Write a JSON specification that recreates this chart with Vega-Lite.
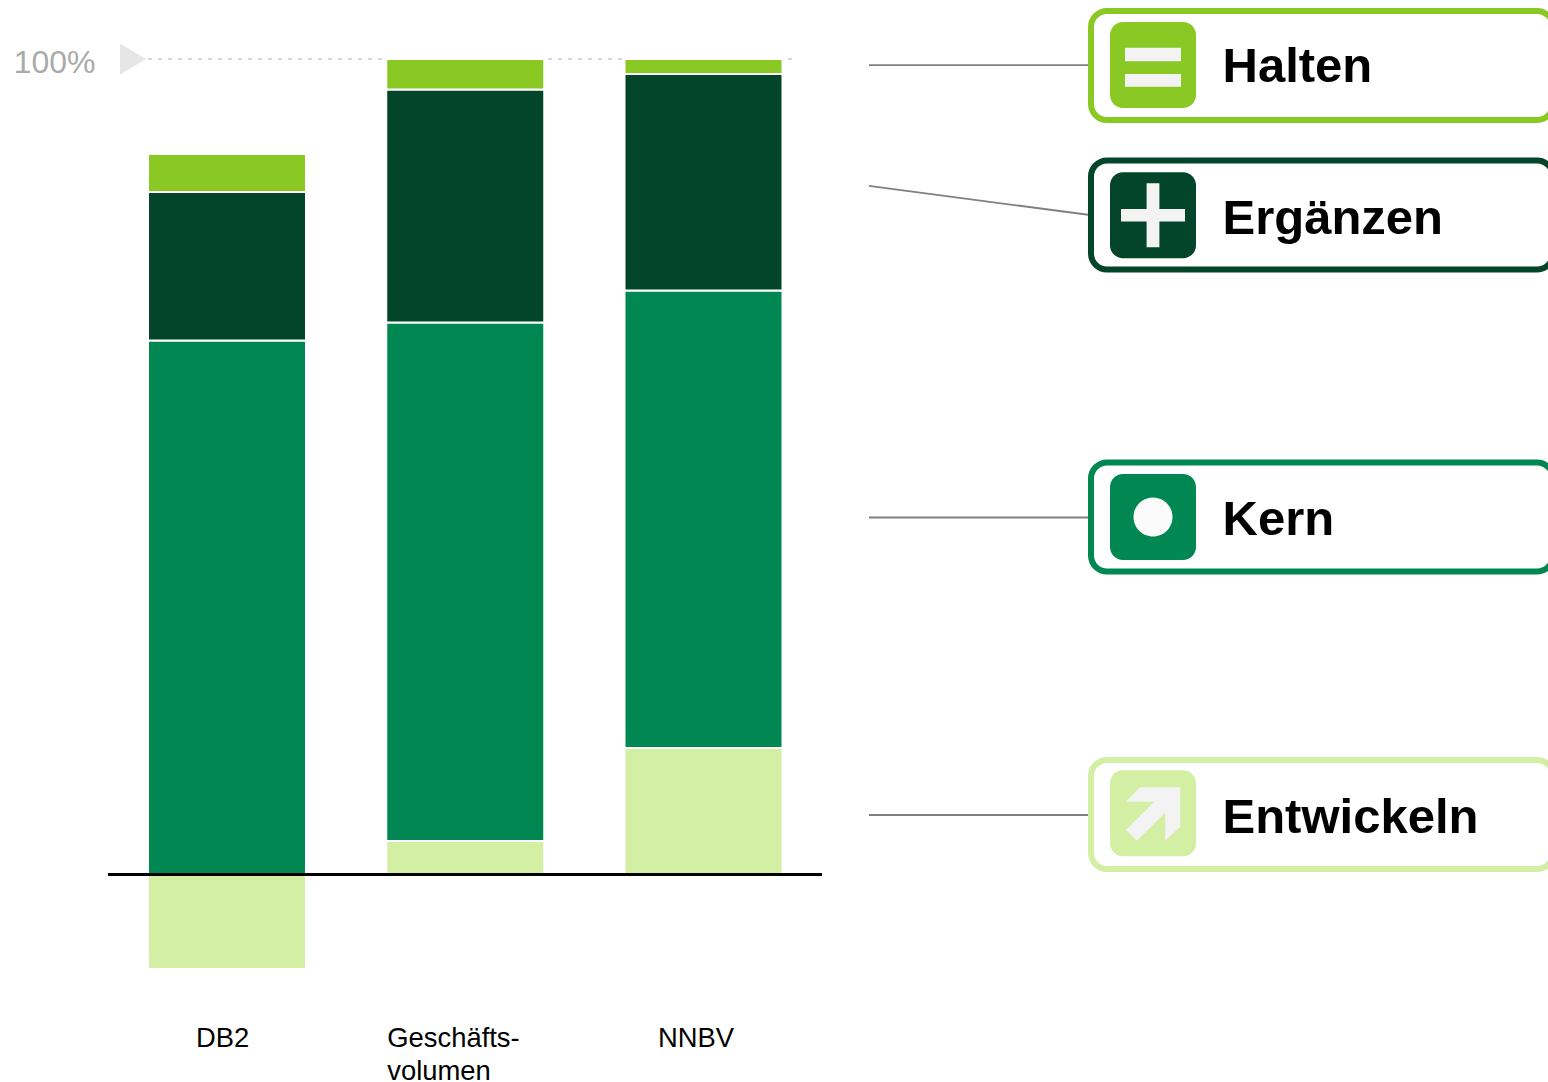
{
  "$schema": "https://vega.github.io/schema/vega-lite/v6.json",
  "width": 1548,
  "height": 1082,
  "autosize": "none",
  "padding": 0,
  "background": "white",
  "config": {"view": {"stroke": null}, "font": "Liberation Sans"},
  "datasets": {
    "bars": [
      {"measure": "DB2", "category": "Entwickeln", "stackOrder": 1, "share": -11.66},
      {"measure": "DB2", "category": "Kern", "stackOrder": 2, "share": 65.46},
      {"measure": "DB2", "category": "Ergänzen", "stackOrder": 3, "share": 18.22},
      {"measure": "DB2", "category": "Halten", "stackOrder": 4, "share": 4.66},
      {"measure": "Geschäftsvolumen", "category": "Entwickeln", "stackOrder": 1, "share": 4.05},
      {"measure": "Geschäftsvolumen", "category": "Kern", "stackOrder": 2, "share": 63.62},
      {"measure": "Geschäftsvolumen", "category": "Ergänzen", "stackOrder": 3, "share": 28.59},
      {"measure": "Geschäftsvolumen", "category": "Halten", "stackOrder": 4, "share": 3.74},
      {"measure": "NNBV", "category": "Entwickeln", "stackOrder": 1, "share": 15.46},
      {"measure": "NNBV", "category": "Kern", "stackOrder": 2, "share": 56.13},
      {"measure": "NNBV", "category": "Ergänzen", "stackOrder": 3, "share": 26.58},
      {"measure": "NNBV", "category": "Halten", "stackOrder": 4, "share": 1.83}
    ],
    "measureLabels": [
      {"measure": "DB2", "labelText": "DB2", "level": -18.53},
      {"measure": "Geschäftsvolumen", "labelText": "Geschäfts-\nvolumen", "level": -18.53},
      {"measure": "NNBV", "labelText": "NNBV", "level": -18.53}
    ],
    "legendItems": [
      {"category": "Halten", "boxLevel": 99.2, "iconLevel": 99.26, "labelLevel": 99.44, "lineFrom": 99.26, "lineTo": 99.26},
      {"category": "Ergänzen", "boxLevel": 80.86, "iconLevel": 80.83, "labelLevel": 80.83, "lineFrom": 84.42, "lineTo": 80.86},
      {"category": "Kern", "boxLevel": 43.8, "iconLevel": 43.8, "labelLevel": 43.92, "lineFrom": 43.74, "lineTo": 43.74},
      {"category": "Entwickeln", "boxLevel": 7.3, "iconLevel": 7.46, "labelLevel": 7.34, "lineFrom": 7.24, "lineTo": 7.24}
    ],
    "reference": [{"level": 100}],
    "baseline": [{"level": -0.05}]
  },
  "resolve": {"scale": {"x": "independent"}, "axis": {"x": "independent", "y": "independent"}},
  "layer": [
    {
      "data": {"name": "reference"},
      "mark": {"type": "rule", "stroke": "#c9c9c9", "strokeWidth": 1.5, "strokeDash": [4, 6]},
      "encoding": {
        "x": {"datum": 0, "type": "quantitative", "scale": {"domain": [0, 1], "range": [148, 792]}, "axis": null},
        "x2": {"datum": 1},
        "y": {"field": "level", "type": "quantitative", "scale": {"domain": [-25.521, 107.239], "nice": false, "zero": false}, "axis": null}
      }
    },
    {
      "data": {"name": "reference"},
      "mark": {"type": "point", "filled": true, "opacity": 1, "fill": "#e6e6e6", "size": 900, "shape": "M-0.867,-1.03L0.867,0L-0.867,1.03Z"},
      "encoding": {
        "x": {"datum": 0, "type": "quantitative", "scale": {"domain": [0, 1], "range": [133, 200]}, "axis": null},
        "y": {"field": "level", "type": "quantitative", "axis": null}
      }
    },
    {
      "data": {"name": "bars"},
      "mark": {"type": "bar", "stroke": "white", "strokeWidth": 2},
      "encoding": {
        "x": {
          "field": "measure",
          "type": "nominal",
          "sort": ["DB2", "Geschäftsvolumen", "NNBV"],
          "scale": {"type": "band", "range": [148, 782.5], "paddingInner": 0.3368, "paddingOuter": 0},
          "axis": null
        },
        "y": {
          "field": "share",
          "type": "quantitative",
          "stack": "zero",
          "axis": {
            "title": null,
            "orient": "left",
            "values": [100],
            "domain": false,
            "ticks": false,
            "grid": false,
            "offset": -100,
            "labelPadding": 5,
            "labelOffset": 4,
            "labelFont": "Liberation Sans",
            "labelFontSize": 32,
            "labelColor": "#aaaaaa",
            "labelExpr": "'100%'"
          }
        },
        "color": {
          "field": "category",
          "type": "nominal",
          "scale": {"domain": ["Halten", "Ergänzen", "Kern", "Entwickeln"], "range": ["#8ac924", "#03452a", "#018752", "#d2efa3"]},
          "legend": null
        },
        "order": {"field": "stackOrder", "type": "quantitative"}
      }
    },
    {
      "data": {"name": "baseline"},
      "mark": {"type": "rule", "stroke": "#000000", "strokeWidth": 3},
      "encoding": {
        "x": {"datum": 0, "type": "quantitative", "scale": {"domain": [0, 1], "range": [108, 822]}, "axis": null},
        "x2": {"datum": 1},
        "y": {"field": "level", "type": "quantitative", "axis": null}
      }
    },
    {
      "data": {"name": "measureLabels"},
      "transform": [{"filter": "datum.measure === 'DB2'"}],
      "mark": {"type": "text", "align": "left", "baseline": "top", "dx": -31, "lineBreak": "\n", "lineHeight": 33, "font": "Liberation Sans", "fontSize": 27.4, "fill": "#000000"},
      "encoding": {
        "x": {"field": "measure", "type": "nominal", "sort": ["DB2", "Geschäftsvolumen", "NNBV"], "scale": {"type": "band", "domain": ["DB2", "Geschäftsvolumen", "NNBV"], "range": [148, 782.5], "paddingInner": 0.3368, "paddingOuter": 0}, "axis": null},
        "y": {"field": "level", "type": "quantitative", "axis": null},
        "text": {"field": "labelText", "type": "nominal"}
      }
    },
    {
      "data": {"name": "measureLabels"},
      "transform": [{"filter": "datum.measure === 'Geschäftsvolumen'"}],
      "mark": {"type": "text", "align": "left", "baseline": "top", "dx": -78, "lineBreak": "\n", "lineHeight": 33, "font": "Liberation Sans", "fontSize": 27.4, "fill": "#000000"},
      "encoding": {
        "x": {"field": "measure", "type": "nominal", "sort": ["DB2", "Geschäftsvolumen", "NNBV"], "scale": {"type": "band", "domain": ["DB2", "Geschäftsvolumen", "NNBV"], "range": [148, 782.5], "paddingInner": 0.3368, "paddingOuter": 0}, "axis": null},
        "y": {"field": "level", "type": "quantitative", "axis": null},
        "text": {"field": "labelText", "type": "nominal"}
      }
    },
    {
      "data": {"name": "measureLabels"},
      "transform": [{"filter": "datum.measure === 'NNBV'"}],
      "mark": {"type": "text", "align": "left", "baseline": "top", "dx": -45.5, "lineBreak": "\n", "lineHeight": 33, "font": "Liberation Sans", "fontSize": 27.4, "fill": "#000000"},
      "encoding": {
        "x": {"field": "measure", "type": "nominal", "sort": ["DB2", "Geschäftsvolumen", "NNBV"], "scale": {"type": "band", "domain": ["DB2", "Geschäftsvolumen", "NNBV"], "range": [148, 782.5], "paddingInner": 0.3368, "paddingOuter": 0}, "axis": null},
        "y": {"field": "level", "type": "quantitative", "axis": null},
        "text": {"field": "labelText", "type": "nominal"}
      }
    },
    {
      "data": {"name": "legendItems"},
      "mark": {"type": "rule", "stroke": "#808080", "strokeWidth": 1.8},
      "encoding": {
        "x": {"datum": 0, "type": "quantitative", "scale": {"domain": [0, 1], "range": [869, 1090]}, "axis": null},
        "x2": {"datum": 1},
        "y": {"field": "lineFrom", "type": "quantitative", "axis": null},
        "y2": {"field": "lineTo"}
      }
    },
    {
      "data": {"name": "legendItems"},
      "mark": {"type": "rect", "filled": false, "strokeWidth": 6, "cornerRadius": 16, "height": 109},
      "encoding": {
        "x": {"datum": 0, "type": "quantitative", "scale": {"domain": [0, 1], "range": [1091, 1553]}, "axis": null},
        "x2": {"datum": 1},
        "y": {"field": "boxLevel", "type": "quantitative", "axis": null},
        "color": {
          "field": "category",
          "type": "nominal",
          "scale": {"domain": ["Halten", "Ergänzen", "Kern", "Entwickeln"], "range": ["#8ac924", "#03452a", "#018752", "#d2efa3"]},
          "legend": null
        }
      }
    },
    {
      "data": {"name": "legendItems"},
      "mark": {"type": "rect", "width": 86, "height": 86, "cornerRadius": 13},
      "encoding": {
        "x": {"datum": 0, "type": "quantitative", "scale": {"domain": [0, 1], "range": [1153, 1300]}, "axis": null},
        "y": {"field": "iconLevel", "type": "quantitative", "axis": null},
        "color": {
          "field": "category",
          "type": "nominal",
          "scale": {"domain": ["Halten", "Ergänzen", "Kern", "Entwickeln"], "range": ["#8ac924", "#03452a", "#018752", "#d2efa3"]},
          "legend": null
        }
      }
    },
    {
      "data": {"name": "legendItems"},
      "mark": {"type": "point", "filled": true, "opacity": 1, "size": 6400},
      "encoding": {
        "x": {"datum": 0, "type": "quantitative", "scale": {"domain": [0, 1], "range": [1153, 1300]}, "axis": null},
        "y": {"field": "iconLevel", "type": "quantitative", "axis": null},
        "fill": {"condition": {"test": "datum.category === 'Kern'", "value": "#fbfbfb"}, "value": "#f3f3f3"},
        "shape": {
          "field": "category",
          "type": "nominal",
          "scale": {
            "domain": ["Halten", "Ergänzen", "Kern", "Entwickeln"],
            "range": [
              "M-0.7,-0.4325L0.7,-0.4325L0.7,-0.0925L-0.7,-0.0925ZM-0.7,0.225L0.7,0.225L0.7,0.5425L-0.7,0.5425Z",
              "M-0.16,-0.8L0.16,-0.8L0.16,-0.155L0.8,-0.155L0.8,0.155L0.16,0.155L0.16,0.8L-0.16,0.8L-0.16,0.155L-0.8,0.155L-0.8,-0.155L-0.16,-0.155Z",
              "M-0.4875,0A0.4875,0.4875 0 1,1 0.4875,0A0.4875,0.4875 0 1,1 -0.4875,0Z",
              "M-0.32,-0.647L0.68,-0.647L0.68,0.337L0.305,0.688L0.305,-0.013L-0.403,0.688L-0.678,0.42L0.03,-0.288L-0.678,-0.288Z"
            ]
          },
          "legend": null
        }
      }
    },
    {
      "data": {"name": "legendItems"},
      "mark": {"type": "text", "align": "left", "baseline": "alphabetic", "dy": 18.7, "font": "Liberation Sans", "fontWeight": "bold", "fontSize": 49, "fill": "#000000"},
      "encoding": {
        "x": {"datum": 0, "type": "quantitative", "scale": {"domain": [0, 1], "range": [1222.5, 1400]}, "axis": null},
        "y": {"field": "labelLevel", "type": "quantitative", "axis": null},
        "text": {"field": "category", "type": "nominal"}
      }
    }
  ]
}
